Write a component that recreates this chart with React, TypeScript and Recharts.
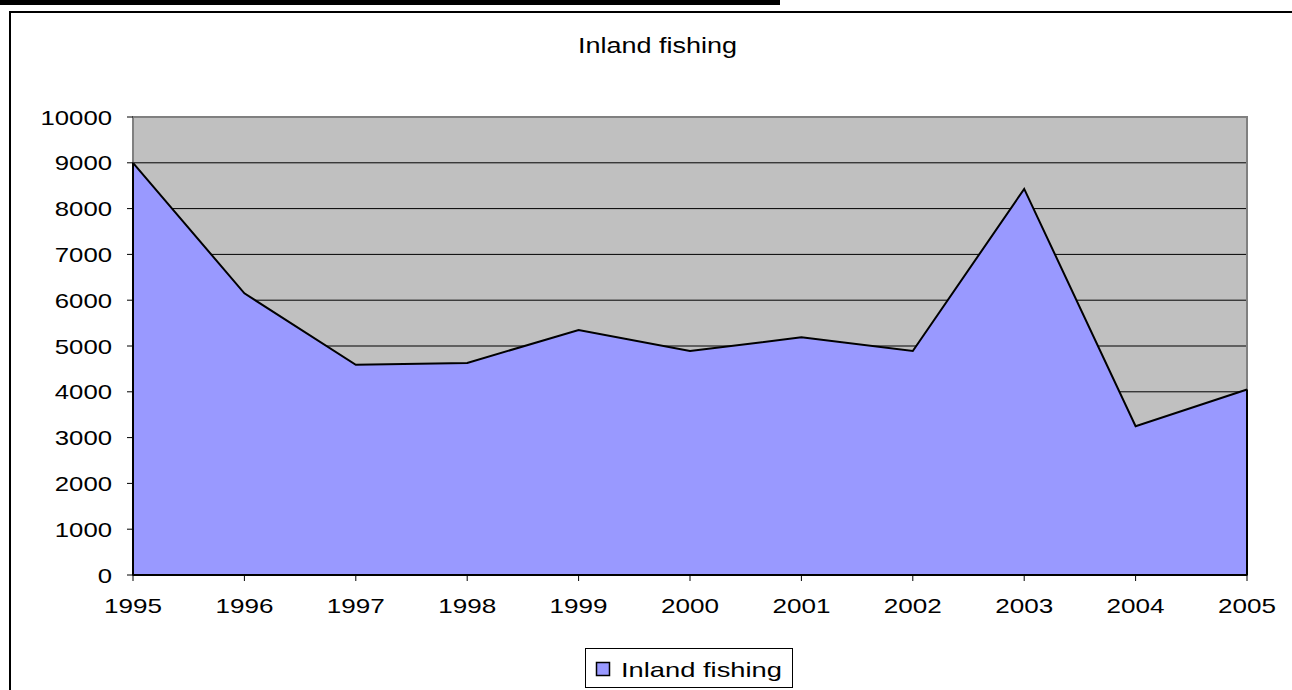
import { Area, AreaChart, CartesianGrid, ReferenceArea, ReferenceLine, XAxis, YAxis } from "recharts";

const years = ["1995", "1996", "1997", "1998", "1999", "2000", "2001", "2002", "2003", "2004", "2005"];
const catch_ = [9000, 6150, 4590, 4630, 5350, 4890, 5190, 4890, 8430, 3250, 4050];
const yTicks = [0, 1000, 2000, 3000, 4000, 5000, 6000, 7000, 8000, 9000, 10000];

const data = years.map((year, i) => ({ year, value: catch_[i] }));

const FONT = "Arial, 'Liberation Sans', sans-serif";
const FILL = "#9999FF";

function YTick({ x, y, payload }: any) {
  const s = String(payload.value);
  return (
    <text x={x} y={y + 7.5} textAnchor="end" fontFamily={FONT} fontSize={21} fill="#000"
      textLength={s.length * 14.3} lengthAdjust="spacingAndGlyphs">
      {s}
    </text>
  );
}

function XTick({ x, y, payload }: any) {
  const s = String(payload.value);
  return (
    <text x={x} y={y + 32} textAnchor="middle" fontFamily={FONT} fontSize={21} fill="#000"
      textLength={s.length * 14.5} lengthAdjust="spacingAndGlyphs">
      {s}
    </text>
  );
}

export default function App() {
  const first = years[0];
  const last = years[years.length - 1];
  return (
    <div style={{ position: "absolute", left: 0, top: 0, width: 1292, height: 690, overflow: "hidden", background: "#fff" }}>
      <div style={{ position: "absolute", left: 0, top: 0, width: 780, height: 5, background: "#000" }} />
      <div style={{ position: "absolute", left: 9, top: 11, width: 1300, height: 700, border: "2px solid #000" }} />
      <svg style={{ position: "absolute", left: 0, top: 0 }} width={1292} height={80}>
        <text x={657.5} y={53} textAnchor="middle" fontFamily={FONT} fontSize={22} fill="#000"
          textLength={159} lengthAdjust="spacingAndGlyphs">
          Inland fishing
        </text>
      </svg>
      <div style={{ position: "absolute", left: 0, top: 0 }}>
        <AreaChart width={1292} height={690} data={data} margin={{ top: 117, right: 45, bottom: 75, left: 0 }}>
          <CartesianGrid vertical={false} stroke="#000" strokeOpacity={1} fill="#C0C0C0" fillOpacity={1} />
          <ReferenceArea x1={first} x2={last} y1={0} y2={10000} fill="none" stroke="#808080" strokeWidth={2} ifOverflow="visible" />
          <XAxis dataKey="year" tickSize={6} tickMargin={0} axisLine={false}
            tickLine={{ stroke: "#000" }} tick={<XTick />} height={40} interval={0} />
          <YAxis domain={[0, 10000]} ticks={yTicks} width={133} tickSize={6} tickMargin={15}
            axisLine={false} tickLine={{ stroke: "#000" }} tick={<YTick />} interval={0} />
          <Area type="linear" dataKey="value" stroke="#000" strokeWidth={2} fill={FILL} fillOpacity={1}
            isAnimationActive={false} dot={false} activeDot={false} />
          <ReferenceLine segment={[{ x: first, y: 0 }, { x: first, y: catch_[0] }]} stroke="#000" strokeWidth={2} />
          <ReferenceLine segment={[{ x: last, y: 0 }, { x: last, y: catch_[catch_.length - 1] }]} stroke="#000" strokeWidth={2} />
          <ReferenceLine y={0} stroke="#000" strokeWidth={2} />
        </AreaChart>
      </div>
      <div style={{ position: "absolute", left: 585, top: 648, width: 206, height: 38, border: "1px solid #000", background: "#fff" }}>
        <svg width={206} height={38} style={{ display: "block" }}>
          <rect x={10.5} y={13.5} width={13} height={13} fill={FILL} stroke="#000" strokeWidth={1.5} />
          <text x={35} y={27.5} fontFamily={FONT} fontSize={21} fill="#000" textLength={161} lengthAdjust="spacingAndGlyphs">
            Inland fishing
          </text>
        </svg>
      </div>
    </div>
  );
}
